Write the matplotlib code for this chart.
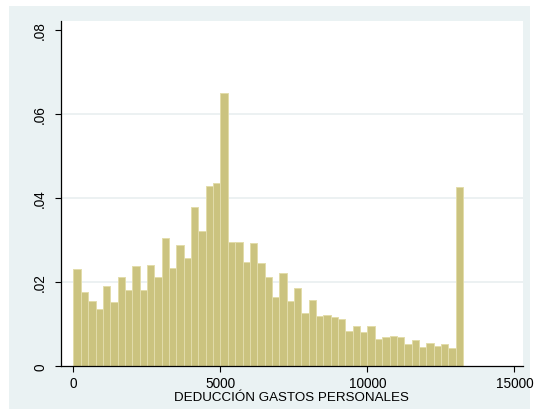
import numpy as np
import matplotlib
matplotlib.use("Agg")
from matplotlib import pyplot as plt
from matplotlib.patches import Rectangle

plt.rcParams['font.family'] = ['Liberation Sans', 'DejaVu Sans']

# histogram of personal expense deductions, bins of 250 starting at 0
bin_width = 250
fractions = [
    0.0230, 0.0175, 0.0154, 0.0135, 0.0190, 0.0152, 0.0211, 0.0182, 0.0238, 0.0180,
    0.0240, 0.0211, 0.0305, 0.0234, 0.0287, 0.0256, 0.0378, 0.0321, 0.0428, 0.0435,
    0.0650, 0.0295, 0.0295, 0.0248, 0.0292, 0.0244, 0.0212, 0.0165, 0.0221, 0.0154,
    0.0186, 0.0126, 0.0157, 0.0119, 0.0121, 0.0116, 0.0112, 0.0083, 0.0094, 0.0082,
    0.0094, 0.0064, 0.0068, 0.0071, 0.0070, 0.0052, 0.0063, 0.0045, 0.0055, 0.0047,
    0.0052, 0.0043, 0.0427,
]
bin_edges = np.arange(len(fractions)) * bin_width

x_ticks = [0, 5000, 10000, 15000]
y_ticks = [0, 0.02, 0.04, 0.06, 0.08]
y_tick_labels = ['0', '.02', '.04', '.06', '.08']
x_title = 'DEDUCCIÓN GASTOS PERSONALES'

fig = plt.figure(figsize=(5.34, 4.14), dpi=100)
fig.patch.set_facecolor('white')
# light bluish graph region with a thin white margin
bg = Rectangle((9 / 534, 4 / 414), 521 / 534, 403 / 414,
               transform=fig.transFigure, facecolor='#eaf2f3',
               edgecolor='none', zorder=-10)
fig.add_artist(bg)

ax = fig.add_axes([61 / 534, 1 - 367 / 414, 461.7 / 534, 345 / 414])
ax.set_facecolor('white')

ax.bar(bin_edges, fractions, width=bin_width, align='edge',
       color='#cbc37f', edgecolor='#e2dcaa', linewidth=0.7, zorder=2)

for y in y_ticks[1:-1]:
    ax.axhline(y, color='#eaf0f1', linewidth=1.3, zorder=1)

ax.set_xlim(-425, 15280)
ax.set_ylim(0, 0.0821)
ax.set_xticks(x_ticks)
ax.set_yticks(y_ticks)
ax.set_yticklabels(y_tick_labels, rotation=90, va='center')

for side in ['top', 'right']:
    ax.spines[side].set_visible(False)
for side in ['left', 'bottom']:
    ax.spines[side].set_color('black')
    ax.spines[side].set_linewidth(0.9)

ax.tick_params(axis='both', direction='out', length=4, width=0.8,
               colors='black', labelsize=9.8)
ax.tick_params(axis='y', pad=6)
ax.tick_params(axis='x', pad=3)

ax.set_xlabel(x_title, fontsize=9.6, labelpad=1)

plt.savefig('out.png', dpi=100, facecolor=fig.get_facecolor())
